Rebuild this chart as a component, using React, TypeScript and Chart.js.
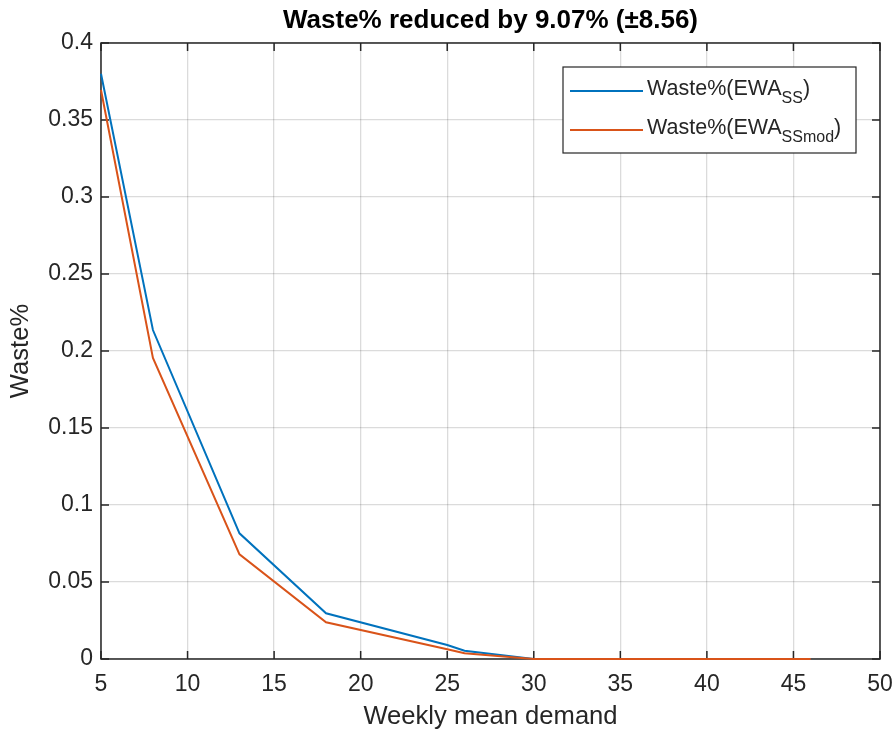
import React, { useEffect, useRef } from "react";
import { Chart, registerables } from "chart.js";

Chart.register(...registerables);

// ---------- data ----------
const demand = [5, 8, 13, 18, 25, 26, 30, 34, 38, 42, 46];
const wasteSS = [0.38, 0.2136, 0.0816, 0.0297, 0.0091, 0.0054, 0, 0, 0, 0, 0];
const wasteSSmod = [0.3695, 0.1955, 0.068, 0.0238, 0.0063, 0.0037, 0, 0, 0, 0, 0];

const xTicks = [5, 10, 15, 20, 25, 30, 35, 40, 45, 50];
const yTicks = [0, 0.05, 0.1, 0.15, 0.2, 0.25, 0.3, 0.35, 0.4];

const titleText = "Waste% reduced by 9.07% (\u00B18.56)";
const xLabel = "Weekly mean demand";
const yLabel = "Waste%";

const legendMain = ["Waste%(EWA", "Waste%(EWA"];
const legendSub = ["SS", "SSmod"];
const seriesColors = ["#0072BD", "#D95319"];

const FONT = "'Liberation Sans', Arial, Helvetica, sans-serif";
const AXIS_COLOR = "#262626";

// ---------- plugins ----------
const axesBoxPlugin = {
  id: "axesBox",
  beforeDatasetsDraw(chart: any) {
    const { ctx, chartArea } = chart;
    const { left, right, top, bottom } = chartArea;
    const xs = chart.scales.x;
    const ys = chart.scales.y;
    const tl = 8;
    ctx.save();
    ctx.strokeStyle = AXIS_COLOR;
    ctx.lineWidth = 1.5;
    ctx.beginPath();
    xTicks.forEach((v) => {
      const px = xs.getPixelForValue(v);
      ctx.moveTo(px, bottom);
      ctx.lineTo(px, bottom - tl);
      ctx.moveTo(px, top);
      ctx.lineTo(px, top + tl);
    });
    yTicks.forEach((v) => {
      const py = ys.getPixelForValue(v);
      ctx.moveTo(left, py);
      ctx.lineTo(left + tl, py);
      ctx.moveTo(right, py);
      ctx.lineTo(right - tl, py);
    });
    ctx.stroke();
    ctx.strokeRect(left, top, right - left, bottom - top);
    ctx.restore();
  },
};

const legendPlugin = {
  id: "matlabLegend",
  afterDraw(chart: any) {
    const { ctx, chartArea } = chart;
    const boxW = 293;
    const boxH = 86;
    const boxR = chartArea.right - 24;
    const boxT = chartArea.top + 24;
    const boxL = boxR - boxW;
    ctx.save();
    ctx.fillStyle = "#ffffff";
    ctx.fillRect(boxL, boxT, boxW, boxH);
    ctx.strokeStyle = AXIS_COLOR;
    ctx.lineWidth = 1.2;
    ctx.strokeRect(boxL, boxT, boxW, boxH);
    const rowLine = [24, 63];
    for (let i = 0; i < legendMain.length; i++) {
      const ly = boxT + rowLine[i];
      ctx.strokeStyle = seriesColors[i];
      ctx.lineWidth = 2;
      ctx.beginPath();
      ctx.moveTo(boxL + 7, ly);
      ctx.lineTo(boxL + 80, ly);
      ctx.stroke();
      const baseY = ly + 4;
      let tx = boxL + 84;
      ctx.fillStyle = AXIS_COLOR;
      ctx.textBaseline = "alphabetic";
      ctx.textAlign = "left";
      ctx.font = `21.5px ${FONT}`;
      ctx.fillText(legendMain[i], tx, baseY);
      tx += ctx.measureText(legendMain[i]).width;
      ctx.font = `16px ${FONT}`;
      ctx.fillText(legendSub[i], tx, baseY + 8);
      tx += ctx.measureText(legendSub[i]).width;
      ctx.font = `21.5px ${FONT}`;
      ctx.fillText(")", tx, baseY);
    }
    ctx.restore();
  },
};

export default function App() {
  const canvasRef = useRef<HTMLCanvasElement | null>(null);

  useEffect(() => {
    const canvas = canvasRef.current;
    if (!canvas) return;
    const chart = new Chart(canvas, {
      type: "line",
      data: {
        datasets: [
          {
            label: "Waste%(EWA_SS)",
            data: demand.map((d, i) => ({ x: d, y: wasteSS[i] })),
            borderColor: seriesColors[0],
            backgroundColor: seriesColors[0],
            borderWidth: 2,
            pointRadius: 0,
            tension: 0,
            clip: false,
            order: 2,
          },
          {
            label: "Waste%(EWA_SSmod)",
            data: demand.map((d, i) => ({ x: d, y: wasteSSmod[i] })),
            borderColor: seriesColors[1],
            backgroundColor: seriesColors[1],
            borderWidth: 2,
            pointRadius: 0,
            tension: 0,
            clip: false,
            order: 1,
          },
        ],
      },
      options: {
        responsive: false,
        animation: false,
        devicePixelRatio: 1,
        layout: { padding: { left: 0, right: 16, top: 0, bottom: 0 } },
        plugins: {
          legend: { display: false },
          tooltip: { enabled: false },
          title: {
            display: true,
            text: titleText,
            fullSize: false,
            color: "#000000",
            font: { family: FONT, size: 26, weight: "bold" },
            padding: { top: 5.5, bottom: 6.3 },
          },
        },
        scales: {
          x: {
            type: "linear",
            min: 5,
            max: 50,
            afterBuildTicks: (s: any) => {
              s.ticks = xTicks.map((v) => ({ value: v }));
            },
            afterFit: (s: any) => {
              s.height = 77;
              s.paddingLeft = 0;
              s.paddingRight = 0;
            },
            grid: { color: "rgba(0,0,0,0.14)", lineWidth: 1.3, drawTicks: false },
            border: { display: false },
            ticks: {
              padding: 12,
              color: AXIS_COLOR,
              font: { family: FONT, size: 23 },
              maxRotation: 0,
              autoSkip: false,
              callback: (v: any) => String(v),
            },
            title: {
              display: true,
              text: xLabel,
              color: AXIS_COLOR,
              font: { family: FONT, size: 25.6 },
              padding: { top: 0, bottom: 4 },
            },
          },
          y: {
            type: "linear",
            min: 0,
            max: 0.4,
            afterBuildTicks: (s: any) => {
              s.ticks = yTicks.map((v) => ({ value: v }));
            },
            afterFit: (s: any) => {
              s.width = 101;
              s.paddingTop = 0;
              s.paddingBottom = 0;
            },
            grid: { color: "rgba(0,0,0,0.14)", lineWidth: 1.3, drawTicks: false },
            border: { display: false },
            ticks: {
              padding: 8,
              color: AXIS_COLOR,
              font: { family: FONT, size: 23 },
              autoSkip: false,
              callback: (v: any) => String(Number(Number(v).toFixed(2))),
            },
            title: {
              display: true,
              text: yLabel,
              color: AXIS_COLOR,
              font: { family: FONT, size: 25.6 },
              padding: { top: 5.6, bottom: 0 },
            },
          },
        },
      },
      plugins: [axesBoxPlugin, legendPlugin],
    } as any);
    return () => chart.destroy();
  }, []);

  return (
    <div style={{ position: "absolute", left: 0, top: 0, width: 896, height: 736, background: "#ffffff" }}>
      <canvas ref={canvasRef} width={896} height={736} />
    </div>
  );
}
